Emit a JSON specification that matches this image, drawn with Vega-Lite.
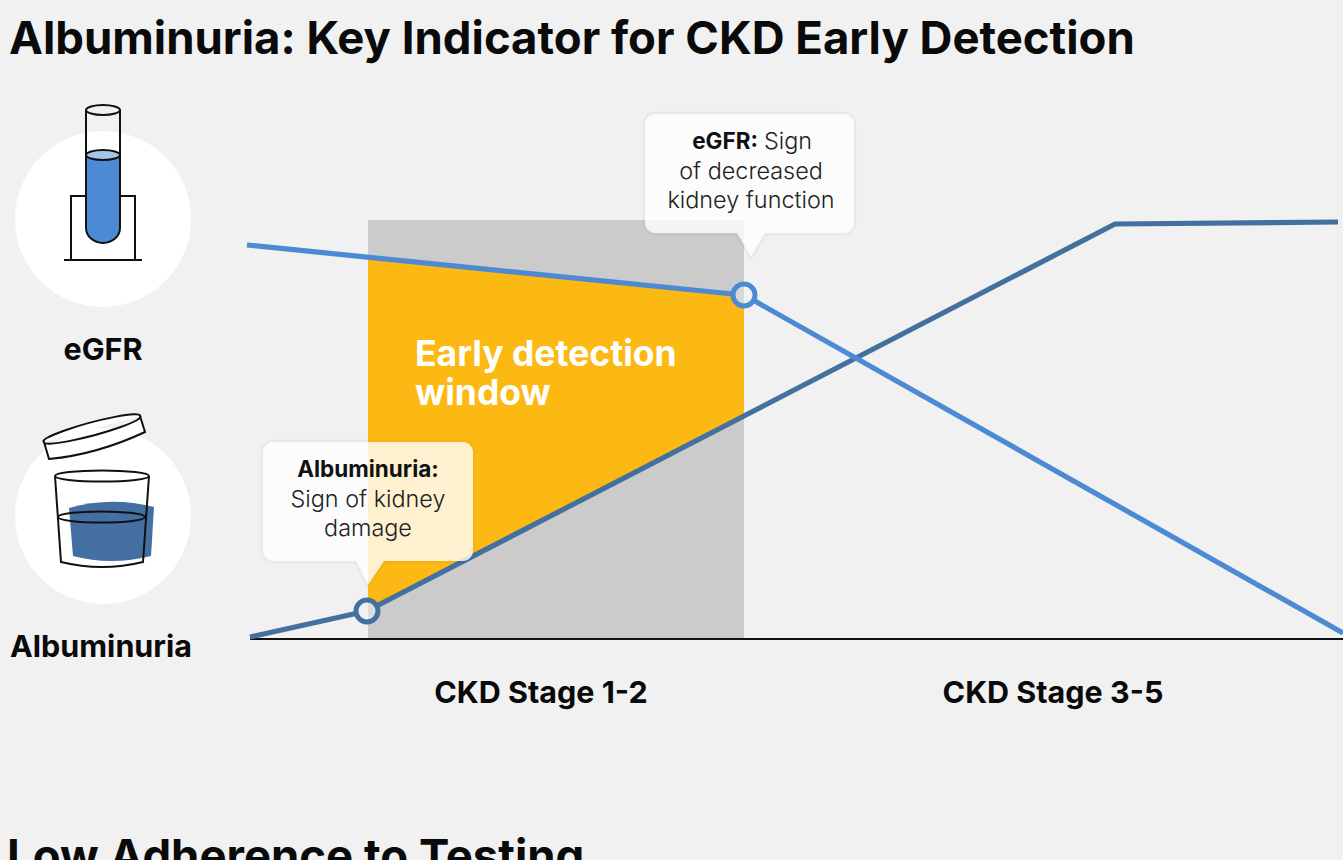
{
"$schema":"https://vega.github.io/schema/vega-lite/v6.json",
"width":1343,"height":860,"padding":0,
"autosize":{"type":"none"},
"background":"#F1F1F1",
"config":{"view":{"stroke":null}},
"datasets":{
"curves":[
{"series":"eGFR a","x":-3,"y":394},{"series":"eGFR a","x":483,"y":345},
{"series":"eGFR b","x":504,"y":338.4},{"series":"eGFR b","x":1093,"y":6},
{"series":"Alb a","x":0,"y":2},{"series":"Alb a","x":107,"y":25.8},
{"series":"Alb b","x":127,"y":33.2},{"series":"Alb b","x":865,"y":415},{"series":"Alb b","x":1088,"y":417}
],
"window":[{"x":118,"y":381.8,"y2":28.5},{"x":494,"y":344,"y2":223}],
"bold":[
{"t":"eGFR","x":-147,"y":279},{"t":"Albuminuria","x":-149,"y":-18},
{"t":"CKD Stage 1-2","x":291,"y":-64},{"t":"CKD Stage 3-5","x":803,"y":-64}
]
},
"encoding":{
"x":{"field":"x","type":"quantitative","axis":null,"scale":{"domain":[-250,1093],"nice":false,"zero":false}},
"y":{"field":"y","type":"quantitative","axis":null,"scale":{"domain":[-221,639],"nice":false,"zero":false}}
},
"layer":[
{"data":{"values":[{"x":118,"x2":494,"y":0,"y2":419}]},"mark":{"type":"rect","color":"#CBCBCB"},
 "encoding":{"x2":{"field":"x2"},"y2":{"field":"y2"}}},
{"data":{"name":"window"},"mark":{"type":"area","color":"#FDB913","orient":"vertical"},"encoding":{"y2":{"field":"y2"}}},
{"data":{"values":[{"x":0,"x2":1093,"y":0}]},"mark":{"type":"rule","color":"#111111","strokeWidth":2},"encoding":{"x2":{"field":"x2"}}},
{"data":{"name":"curves"},"transform":[{"filter":"indexof(datum.series,'Alb')==0"}],"mark":{"type":"line","color":"#44709F","strokeWidth":5.2},"encoding":{"detail":{"field":"series"}}},
{"data":{"name":"curves"},"transform":[{"filter":"indexof(datum.series,'eGFR')==0"}],"mark":{"type":"line","color":"#4D8AD4","strokeWidth":5.2},"encoding":{"detail":{"field":"series"}}},
{"data":{"values":[{"x":494,"y":344},{"x":117,"y":28}]},"mark":{"type":"point","shape":"circle","size":484,"filled":true,"color":"#F1F1F1","opacity":1}},
{"data":{"values":[{"x":494,"y":344}]},"mark":{"type":"point","size":4,"shape":"M0,-11 A11,11 0 0 0 0,11 Z","filled":true,"color":"#D9D9D9","opacity":1}},
{"data":{"values":[{"x":117,"y":28}]},"mark":{"type":"point","size":4,"shape":"M1,-11 A11,11 0 0 1 1,11 Z","filled":true,"color":"#DEDEDE","opacity":1}},
{"data":{"values":[{"x":494,"y":344}]},"mark":{"type":"point","shape":"circle","size":484,"filled":false,"fillOpacity":0,"stroke":"#4D8AD4","strokeWidth":5,"opacity":1}},
{"data":{"values":[{"x":117,"y":28}]},"mark":{"type":"point","shape":"circle","size":484,"filled":false,"fillOpacity":0,"stroke":"#44709F","strokeWidth":5,"opacity":1}},
{"data":{"values":[{"x":-147,"y":420},{"x":-147,"y":123}]},"mark":{"type":"point","shape":"circle","size":30976,"filled":true,"color":"#FFFFFF","opacity":1}},
{"data":{"values":[{"x":-147,"y":420}]},"mark":{"type":"point","size":4,"shape":"M-32,41 L-32,-23 L32,-23 L32,41 M-39,41 L39,41 M-17,-109 L-17,-64 M17,-109 L17,-64","filled":false,"fillOpacity":0,"stroke":"#111111","strokeWidth":2,"opacity":1}},
{"data":{"values":[{"x":-147,"y":420}]},"mark":{"type":"point","size":4,"shape":"M-17,-64 L-17,9 A17,15 0 0 0 17,9 L17,-64 Z","filled":false,"fill":"#4D8AD4","fillOpacity":1,"stroke":"#111111","strokeWidth":2,"opacity":1}},
{"data":{"values":[{"x":-147,"y":420}]},"mark":{"type":"point","size":4,"shape":"M-17,-64 A17,5 0 1 1 17,-64 A17,5 0 1 1 -17,-64 Z","filled":false,"fill":"#A6C5EA","fillOpacity":1,"stroke":"#111111","strokeWidth":2,"opacity":1}},
{"data":{"values":[{"x":-147,"y":420}]},"mark":{"type":"point","size":4,"shape":"M-17,-109 A17,5 0 1 1 17,-109 A17,5 0 1 1 -17,-109 Z","filled":false,"fill":"#F1F1F1","fillOpacity":1,"stroke":"#111111","strokeWidth":2,"opacity":1}},
{"data":{"values":[{"x":-147,"y":123}]},"mark":{"type":"point","size":4,"shape":"M-34,-8 Q8,-20 51,-9 L48,40 Q8,50 -30,40 Z","filled":true,"color":"#436FA3","opacity":1}},
{"data":{"values":[{"x":-147,"y":123}]},"mark":{"type":"point","size":4,"shape":"M-48,-40 A47,5.5 0 1 1 46,-40 A47,5.5 0 1 1 -48,-40 Z M-48,-40 L-42,46 Q-1,56 40,46 L46,-40 M-45,1 A43.5,5.5 0 1 1 42,1 A43.5,5.5 0 1 1 -45,1 Z","filled":false,"fillOpacity":0,"stroke":"#111111","strokeWidth":2,"opacity":1}},
{"data":{"values":[{"x":-147,"y":123}]},"mark":{"type":"point","size":4,"shape":"M-59,-74 A50,6 -15 1 1 37,-100 L42,-84 Q-6,-61.5 -54,-57 Z M-59,-74 A50,6 -15 1 0 37,-100","filled":false,"fill":"#FFFFFF","fillOpacity":1,"stroke":"#111111","strokeWidth":2,"opacity":1}},
{"data":{"values":[{"x":118,"y":54}]},"mark":{"type":"point","size":4,"shape":"M-95,-143 L95,-143 A10,10 0 0 1 105,-133 L105,-34 A10,10 0 0 1 95,-24 L16,-24 L0,0 L-12,-24 L-95,-24 A10,10 0 0 1 -105,-34 L-105,-133 A10,10 0 0 1 -95,-143 Z","filled":false,"fillOpacity":0,"stroke":"#000000","strokeOpacity":0.03,"strokeWidth":5,"opacity":1}},
{"data":{"values":[{"x":501,"y":382}]},"mark":{"type":"point","size":4,"shape":"M-96,-143 L93,-143 A10,10 0 0 1 103,-133 L103,-34 A10,10 0 0 1 93,-24 L14,-24 L0,0 L-14,-24 L-96,-24 A10,10 0 0 1 -106,-34 L-106,-133 A10,10 0 0 1 -96,-143 Z","filled":false,"fillOpacity":0,"stroke":"#000000","strokeOpacity":0.03,"strokeWidth":5,"opacity":1}},
{"data":{"values":[{"x":118,"y":54}]},"mark":{"type":"point","size":4,"shape":"M-95,-143 L95,-143 A10,10 0 0 1 105,-133 L105,-34 A10,10 0 0 1 95,-24 L16,-24 L0,0 L-12,-24 L-95,-24 A10,10 0 0 1 -105,-34 L-105,-133 A10,10 0 0 1 -95,-143 Z","filled":true,"color":"#FFFFFF","fillOpacity":0.8,"opacity":1}},
{"data":{"values":[{"x":501,"y":382}]},"mark":{"type":"point","size":4,"shape":"M-96,-143 L93,-143 A10,10 0 0 1 103,-133 L103,-34 A10,10 0 0 1 93,-24 L14,-24 L0,0 L-14,-24 L-96,-24 A10,10 0 0 1 -106,-34 L-106,-133 A10,10 0 0 1 -96,-143 Z","filled":true,"color":"#FFFFFF","fillOpacity":0.8,"opacity":1}},
{"data":{"values":[{"t":"Albuminuria: Key Indicator for CKD Early Detection","x":-241,"y":585},{"t":"Low Adherence to Testing","x":-243,"y":-233}]},
 "mark":{"type":"text","align":"left","baseline":"alphabetic","font":"Inter","fontWeight":700,"fontSize":45.5,"color":"#0A0A0A"},"encoding":{"text":{"field":"t"}}},
{"data":{"name":"bold"},"mark":{"type":"text","align":"center","baseline":"alphabetic","font":"Inter","fontWeight":700,"fontSize":30.5,"color":"#0A0A0A"},"encoding":{"text":{"field":"t"}}},
{"data":{"values":[{"t":"Early detection","x":165,"y":273},{"t":"window","x":165,"y":234}]},
 "mark":{"type":"text","align":"left","baseline":"alphabetic","font":"Inter","fontWeight":700,"fontSize":35.5,"color":"#FFFFFF"},"encoding":{"text":{"field":"t"}}},
{"data":{"values":[{"t":"Albuminuria:","x":118,"y":162}]},
 "mark":{"type":"text","align":"center","baseline":"alphabetic","font":"Inter","fontWeight":700,"fontSize":22.5,"color":"#111111"},"encoding":{"text":{"field":"t"}}},
{"data":{"values":[{"t":"eGFR:","x":508,"y":490}]},
 "mark":{"type":"text","align":"right","baseline":"alphabetic","font":"Inter","fontWeight":700,"fontSize":22.5,"color":"#111111"},"encoding":{"text":{"field":"t"}}},
{"data":{"values":[{"t":"Sign of kidney","x":118,"y":132},{"t":"damage","x":118,"y":103},{"t":"of decreased","x":501,"y":460},{"t":"kidney function","x":501,"y":431}]},
 "mark":{"type":"text","align":"center","baseline":"alphabetic","font":"Inter","fontWeight":300,"fontSize":23.4,"color":"#222222"},"encoding":{"text":{"field":"t"}}},
{"data":{"values":[{"t":"Sign","x":514,"y":490}]},
 "mark":{"type":"text","align":"left","baseline":"alphabetic","font":"Inter","fontWeight":300,"fontSize":23.4,"color":"#222222"},"encoding":{"text":{"field":"t"}}}
]
}
